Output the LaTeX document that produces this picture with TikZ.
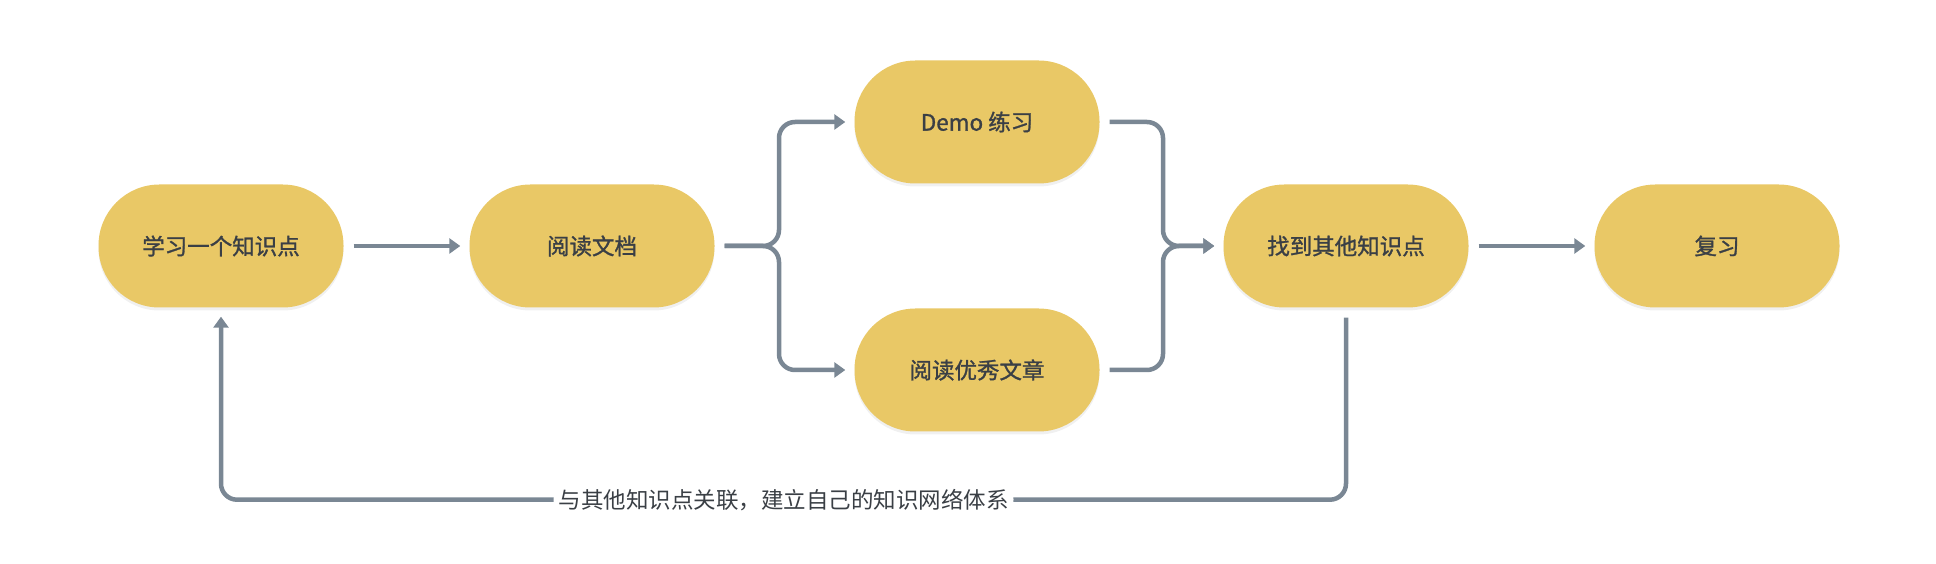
\documentclass[tikz,border=0pt]{standalone}
\usepackage{fontspec}
\setmainfont{Noto Sans CJK SC}
\newfontfamily\boxfont[FakeBold=1.2]{Noto Sans CJK SC}
\usetikzlibrary{arrows.meta,shadows}
\definecolor{boxyellow}{HTML}{E9C866}
\definecolor{linegray}{HTML}{7A8794}
\definecolor{textgray}{HTML}{3A3F45}
\tikzset{
    stage/.style={fill=boxyellow,rounded corners=61pt,minimum width=245pt,minimum height=123pt,
        text=textgray,font=\boxfont\fontsize{22.5}{26}\selectfont,
        drop shadow={opacity=0.12,shadow xshift=0pt,shadow yshift=-3pt}},
    flow/.style={line width=4.5pt,linegray,-{Triangle[length=11pt,width=15pt]},
        shorten >=9pt,shorten <=10pt,rounded corners=16pt},
}
\begin{document}
\begin{tikzpicture}[x=1pt,y=1pt]
    \useasboundingbox (0,0) rectangle (1936,564);
    \node[stage] (learn) at (221,318) {学习一个知识点};
    \node[stage] (read) at (592,318) {阅读文档};
    \node[stage] (demo) at (977,442) {Demo 练习};
    \node[stage] (good) at (977,194) {阅读优秀文章};
    \node[stage] (find) at (1346,318) {找到其他知识点};
    \node[stage] (review) at (1717,318) {复习};
    \coordinate (split) at (779,318);
    \coordinate (merge) at (1163,318);
    \draw[flow] (learn) -- (read);
    \draw[flow] (read.east) -- (split) |- (demo.west);
    \draw[flow] (read.east) -- (split) |- (good.west);
    \draw[flow] (demo.east) -| (merge) -- (find.west);
    \draw[flow] (good.east) -| (merge) -- (find.west);
    \draw[flow] (find.south) -- ++(0,-192) -| (learn.south)
        node[pos=0.25,fill=white,inner sep=5pt,text=textgray,font=\fontsize{22.5}{26}\selectfont] (note) {与其他知识点关联，建立自己的知识网络体系};
    \draw[flow] (find) -- (review);
\end{tikzpicture}
\end{document}
